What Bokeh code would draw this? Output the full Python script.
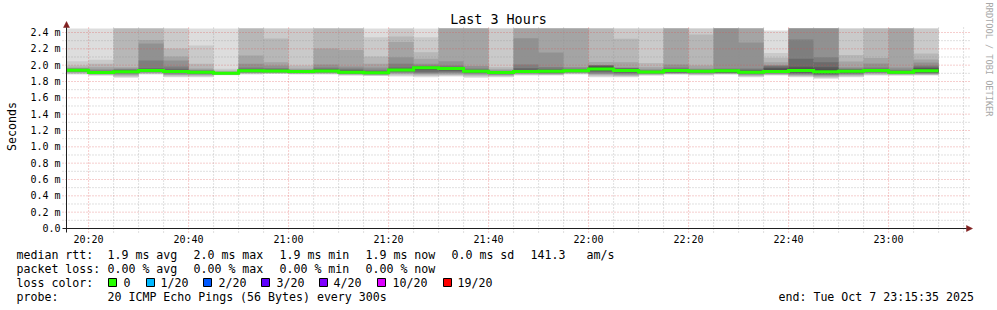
import numpy as np
from bokeh.plotting import figure
from bokeh.models import FixedTicker, Label, BoxAnnotation, Arrow, NormalHead, Range1d
from bokeh.embed import file_html
from bokeh.resources import INLINE

# ---------------- data ----------------
T = 9.9  # ping above the graph's upper limit (drawn clipped at the top)

graph_start = "20:15:35"
graph_end = "23:15:35"
step_minutes = 5
step_start = ["20:15", "20:20", "20:25", "20:30", "20:35", "20:40", "20:45", "20:50", "20:55",
              "21:00", "21:05", "21:10", "21:15", "21:20", "21:25", "21:30", "21:35", "21:40",
              "21:45", "21:50", "21:55", "22:00", "22:05", "22:10", "22:15", "22:20", "22:25",
              "22:30", "22:35", "22:40", "22:45", "22:50", "22:55", "23:00", "23:05"]

# median rtt per step (ms)
medians = [1.938, 1.910, 1.919, 1.935, 1.922, 1.913, 1.900, 1.931, 1.929, 1.922,
           1.929, 1.914, 1.906, 1.941, 1.969, 1.959, 1.926, 1.910, 1.922, 1.926,
           1.931, 1.953, 1.935, 1.916, 1.935, 1.926, 1.931, 1.914, 1.922, 1.935,
           1.919, 1.925, 1.935, 1.914, 1.933]

# the 20 ping rtts of each step (ms), sorted
pings = [
    [1.886, 1.893, 1.900, 1.908, 1.915, 1.921, 1.926, 1.930, 1.934, 1.937, 1.939, 1.942, 1.946, 1.950, 1.955, 1.962, 1.971, 1.996, 2.048, T],
    [1.873, 1.878, 1.883, 1.888, 1.892, 1.896, 1.900, 1.903, 1.906, 1.909, 1.911, 1.914, 1.918, 1.925, 1.935, 1.950, 1.975, 2.017, 2.066, T],
    [1.845, 1.856, 1.868, 1.880, 1.890, 1.898, 1.904, 1.909, 1.913, 1.917, 1.921, 1.925, 1.932, 1.940, 1.950, 1.960, 1.975, T, T, T],
    [1.886, 1.892, 1.899, 1.905, 1.910, 1.915, 1.920, 1.925, 1.929, 1.933, 1.937, 1.944, 1.952, 1.962, 2.057, 2.265, 2.308, T, T, T],
    [1.853, 1.862, 1.872, 1.881, 1.890, 1.898, 1.905, 1.911, 1.916, 1.920, 1.924, 1.932, 1.942, 1.955, 1.984, 2.057, 2.106, 2.204, T, T],
    [1.853, 1.862, 1.871, 1.879, 1.886, 1.893, 1.899, 1.904, 1.908, 1.912, 1.914, 1.917, 1.921, 1.928, 1.935, 1.945, 1.960, 2.017, 2.241, T],
    [1.877, 1.880, 1.883, 1.886, 1.889, 1.891, 1.893, 1.895, 1.897, 1.899, 1.901, 1.902, 1.904, 1.906, 1.910, 1.915, 1.922, 1.935, 1.955, T],
    [1.886, 1.892, 1.898, 1.903, 1.908, 1.913, 1.918, 1.922, 1.926, 1.929, 1.933, 1.938, 1.945, 1.955, 1.970, 2.017, 2.118, T, T, T],
    [1.892, 1.897, 1.901, 1.905, 1.909, 1.913, 1.917, 1.921, 1.924, 1.927, 1.931, 1.935, 1.941, 1.950, 1.965, 1.996, 2.036, 2.326, T, T],
    [1.886, 1.891, 1.895, 1.899, 1.903, 1.907, 1.911, 1.914, 1.917, 1.920, 1.924, 1.926, 1.929, 1.934, 1.940, 1.948, 1.960, 1.996, T, T],
    [1.886, 1.892, 1.897, 1.902, 1.907, 1.912, 1.916, 1.920, 1.924, 1.927, 1.931, 1.937, 1.945, 1.955, 1.970, 2.008, 2.204, T, T, T],
    [1.873, 1.878, 1.883, 1.888, 1.893, 1.897, 1.901, 1.905, 1.909, 1.912, 1.916, 1.922, 1.932, 1.945, 1.960, 1.984, 2.186, T, T, T],
    [1.867, 1.873, 1.878, 1.883, 1.887, 1.891, 1.895, 1.898, 1.901, 1.904, 1.908, 1.912, 1.920, 1.930, 1.945, 1.970, 2.017, 2.106, 2.342, T],
    [1.861, 1.873, 1.885, 1.895, 1.904, 1.913, 1.921, 1.928, 1.934, 1.939, 1.943, 1.947, 1.955, 1.970, 2.017, 2.098, 2.284, 2.351, T, T],
    [1.853, 1.866, 1.878, 1.888, 1.896, 1.905, 1.920, 1.940, 1.955, 1.967, 1.970, 1.973, 1.978, 1.985, 1.996, 2.017, 2.078, 2.159, 2.342, T],
    [1.861, 1.871, 1.881, 1.890, 1.900, 1.910, 1.922, 1.935, 1.948, 1.957, 1.961, 1.964, 1.970, 1.980, 1.996, 2.048, T, T, T, T],
    [1.845, 1.857, 1.869, 1.881, 1.891, 1.900, 1.908, 1.915, 1.920, 1.924, 1.928, 1.931, 1.937, 1.945, 1.960, 1.990, T, T, T, T],
    [1.853, 1.861, 1.869, 1.876, 1.882, 1.889, 1.895, 1.900, 1.905, 1.909, 1.911, 1.912, 1.915, 1.919, 1.925, 1.935, 1.950, 1.975, T, T],
    [1.873, 1.880, 1.887, 1.893, 1.899, 1.904, 1.909, 1.913, 1.917, 1.920, 1.924, 1.932, 1.945, 1.965, 2.008, 2.330, T, T, T, T],
    [1.873, 1.879, 1.885, 1.890, 1.895, 1.900, 1.906, 1.912, 1.918, 1.924, 1.928, 1.933, 1.942, 1.955, 1.977, 2.155, T, T, T, T],
    [1.886, 1.892, 1.898, 1.904, 1.909, 1.914, 1.918, 1.922, 1.926, 1.930, 1.932, 1.935, 1.940, 1.948, 1.958, 1.977, T, T, T, T],
    [1.853, 1.865, 1.876, 1.885, 1.893, 1.902, 1.915, 1.930, 1.942, 1.951, 1.957, 1.970, 1.994, 1.996, 1.997, 1.998, 2.039, T, T, T],
    [1.853, 1.862, 1.870, 1.878, 1.886, 1.895, 1.905, 1.918, 1.925, 1.933, 1.938, 1.945, 1.955, 1.958, 1.962, 1.975, 2.036, 2.323, T, T],
    [1.873, 1.878, 1.884, 1.889, 1.894, 1.899, 1.903, 1.907, 1.911, 1.914, 1.918, 1.920, 1.924, 1.930, 1.938, 1.950, 1.975, 2.026, T, T],
    [1.886, 1.890, 1.894, 1.897, 1.901, 1.905, 1.910, 1.915, 1.922, 1.932, 1.937, 1.940, 1.946, 1.955, 1.971, 2.008, T, T, T, T],
    [1.873, 1.880, 1.887, 1.893, 1.899, 1.905, 1.910, 1.915, 1.920, 1.924, 1.927, 1.929, 1.933, 1.938, 1.946, 1.960, 1.996, 2.375, T, T],
    [1.886, 1.890, 1.894, 1.897, 1.901, 1.905, 1.909, 1.914, 1.920, 1.929, 1.933, 1.937, 1.943, 1.950, 1.959, T, T, T, T, T],
    [1.853, 1.861, 1.869, 1.877, 1.884, 1.891, 1.897, 1.903, 1.908, 1.912, 1.916, 1.922, 1.932, 1.945, 1.960, 2.277, T, T, T, T],
    [1.873, 1.879, 1.885, 1.890, 1.895, 1.900, 1.905, 1.910, 1.915, 1.920, 1.928, 1.945, 1.965, 1.985, 1.996, 2.000, 2.036, 2.090, 2.149, 2.425],
    [1.853, 1.861, 1.869, 1.877, 1.884, 1.892, 1.900, 1.910, 1.920, 1.930, 1.940, 1.955, 1.980, 2.080, 2.314, T, T, T, T, T],
    [1.833, 1.844, 1.854, 1.863, 1.872, 1.881, 1.889, 1.897, 1.905, 1.914, 1.925, 1.945, 1.975, 2.036, 2.098, T, T, T, T, T],
    [1.853, 1.862, 1.871, 1.879, 1.887, 1.895, 1.902, 1.909, 1.916, 1.922, 1.928, 1.935, 1.942, 1.950, 1.960, 1.975, 2.045, 2.124, T, T],
    [1.873, 1.881, 1.889, 1.897, 1.904, 1.911, 1.918, 1.924, 1.929, 1.933, 1.937, 1.940, 1.946, 1.955, 1.970, 2.020, 2.088, T, T, T],
    [1.873, 1.878, 1.883, 1.888, 1.893, 1.897, 1.901, 1.905, 1.909, 1.912, 1.916, 1.919, 1.924, 1.932, 1.945, 1.970, T, T, T, T],
    [1.873, 1.879, 1.885, 1.890, 1.895, 1.900, 1.906, 1.912, 1.920, 1.930, 1.937, 1.948, 1.965, 1.980, 1.996, 2.033, 2.069, 2.143, T, T],
]

upper_limit = 2.449  # ms, top of the graph area

x_tick_labels = ["20:20", "20:40", "21:00", "21:20", "21:40", "22:00", "22:20", "22:40", "23:00"]
x_minor_labels = ["20:25", "20:30", "20:35", "20:45", "20:50", "20:55", "21:05", "21:10", "21:15",
                  "21:25", "21:30", "21:35", "21:45", "21:50", "21:55", "22:05", "22:10", "22:15",
                  "22:25", "22:30", "22:35", "22:45", "22:50", "22:55", "23:05", "23:10", "23:15"]
y_ticks = [0.0, 0.2, 0.4, 0.6, 0.8, 1.0, 1.2, 1.4, 1.6, 1.8, 2.0, 2.2, 2.4]
y_tick_labels = ["0.0", "0.2 m", "0.4 m", "0.6 m", "0.8 m", "1.0 m", "1.2 m", "1.4 m",
                 "1.6 m", "1.8 m", "2.0 m", "2.2 m", "2.4 m"]
y_minor = [0.1, 0.3, 0.5, 0.7, 0.9, 1.1, 1.3, 1.5, 1.7, 1.9, 2.1, 2.3]

title_text = "Last 3 Hours"
y_label_text = "Seconds"
side_text = "RRDTOOL / TOBI OETIKER"

rtt_label = "median rtt:"
rtt_items = ["1.9 ms avg", "2.0 ms max", "1.9 ms min", "1.9 ms now", "0.0 ms sd", "141.3", "am/s"]
loss_label = "packet loss:"
loss_items = ["0.00 % avg", "0.00 % max", "0.00 % min", "0.00 % now"]
color_label = "loss color:"
loss_names = ["0", "1/20", "2/20", "3/20", "4/20", "10/20", "19/20"]
loss_colors = ["#26ff00", "#00b8ff", "#0059ff", "#5e00ff", "#7e00ff", "#dd00ff", "#ff0000"]
probe_label = "probe:"
probe_text = "20 ICMP Echo Pings (56 Bytes) every 300s"
end_text = "end: Tue Oct  7 23:15:35 2025"

# ---------------- layout (pixels of the 997x310 image) ----------------
W, H = 997, 310
FL, FB = 62, 232                        # left / bottom end of the grid
X0, Y0 = 66, 228                        # pixel of graph start / of 0 s
XG1, YG1 = 969, 25                      # right end / top end of grid lines
PX_MIN = 5.0                            # px per minute
PX_MS = 196 / 2.4                       # px per ms

rtt_x = [107, 193, 279, 365, 451, 530, 586]
loss_x = [107, 193, 279, 365]
box_x = [108, 146, 203, 261, 319, 377, 443]
name_x = [123, 160, 218, 276, 333, 392, 457]
row_y = [254, 268, 282, 296]
MONO = "DejaVu Sans Mono"
TXT = "11.6px"


def minutes(s):
    parts = [int(v) for v in s.split(":")]
    return parts[0] * 60 + parts[1] + (parts[2] / 60 if len(parts) > 2 else 0)


def tx(px):  # image x pixel -> time
    return t0 + (px - X0) / PX_MIN


def vy(py):  # image y pixel -> ms
    return (Y0 - py) / PX_MS


t0 = minutes(graph_start)
t1 = minutes(graph_end)

# the frame fills the whole image; axes sit at fixed data locations inside it
p = figure(width=W, height=H, x_range=Range1d(tx(0), tx(W)), y_range=Range1d(vy(H), vy(0)),
           output_backend="svg", toolbar_location=None, min_border=0,
           background_fill_color="white", border_fill_color="white", outline_line_color=None)
p.xgrid.visible = False
p.ygrid.visible = False

starts = np.array([minutes(s) for s in step_start])
edges = np.concatenate([[max(starts[0], t0)], starts[1:], [starts[-1] + step_minutes]])
P = np.minimum(np.sort(np.array(pings), axis=1), upper_limit)

# smoke: band i spans ping i .. ping (21-i), darker towards the middle
half = 10
for i in range(1, half + 1):
    g = int(190 / half * (half - i)) + 50
    col = "#%02x%02x%02x" % (g, g, g)
    lo = np.concatenate([P[:, i - 1], [P[-1, i - 1]]])
    hi = np.concatenate([P[:, 20 - i], [P[-1, 20 - i]]])
    p.varea_step(x=edges, y1=lo, y2=hi, step_mode="after", fill_color=col)

# grid lines (over the smoke)
x_major = [minutes(s) for s in x_tick_labels]
x_minor = [minutes(s) for s in x_minor_labels]
grid_styles = ((y_minor, x_minor, "#8f8f8f", 0.55), (y_ticks[1:], x_major, "#de4f4f", 0.55))
for ys, xs, c, a in grid_styles:
    p.segment(x0=tx(FL), y0=ys, x1=tx(XG1), y1=ys, line_color=c, line_alpha=a, line_width=1, line_dash="1 2")
    p.segment(x0=xs, y0=vy(FB), x1=xs, y1=vy(YG1), line_color=c, line_alpha=a, line_width=1, line_dash="1 2")

# median line
med = np.array(medians)
p.step(x=edges, y=np.concatenate([med, [med[-1]]]), mode="after",
       line_color="#26ff00", line_width=3, line_join="miter", line_cap="butt")

# axes: tick labels from Bokeh axes placed at the graph origin, axis lines drawn as arrows
p.xaxis.fixed_location = 0.0
p.yaxis.fixed_location = t0
p.xaxis.ticker = FixedTicker(ticks=x_major)
p.xaxis.major_label_overrides = dict(zip(x_major, x_tick_labels))
p.yaxis.ticker = FixedTicker(ticks=y_ticks)
p.yaxis.major_label_overrides = dict(zip(y_ticks, y_tick_labels))
for ax in (p.xaxis, p.yaxis):
    ax.axis_line_color = None
    ax.major_tick_line_color = None
    ax.minor_tick_line_color = None
    ax.major_tick_out = 0
    ax.major_tick_in = 0
    ax.minor_tick_out = 0
    ax.minor_tick_in = 0
    ax.major_label_text_font = MONO
    ax.major_label_text_font_size = "10px"
    ax.major_label_text_color = "black"
p.yaxis.major_label_standoff = 6
p.xaxis.major_label_standoff = 5

arrow_col = "#801f1f"
p.add_layout(Arrow(end=NormalHead(size=6, fill_color=arrow_col, line_color=arrow_col, line_width=0.5),
                   x_start=tx(FL), y_start=0, x_end=tx(972), y_end=0,
                   line_color="#1f1f1f", line_width=1))
p.add_layout(Arrow(end=NormalHead(size=6, fill_color=arrow_col, line_color=arrow_col, line_width=0.5),
                   x_start=t0, y_start=vy(FB), x_end=t0, y_end=vy(21),
                   line_color="#1f1f1f", line_width=1))


def put(text, px, py, size=TXT, align="left", color="black", angle=0.0):
    # screen units: x from the frame's left edge, y up from its bottom edge (frame = whole image)
    p.add_layout(Label(x=px, y=H - py, x_units="screen", y_units="screen",
                       text=text, text_font=MONO, text_font_size=size, text_align=align,
                       text_baseline="middle", text_color=color, angle=angle))


put(title_text, 498, 19, size="13.4px", align="center")
put(y_label_text, 11, 126, align="center", angle=np.pi / 2)
put(side_text, 988, 59, size="8.6px", align="center", color="#a8a8a8", angle=-np.pi / 2)

put(rtt_label, 16, row_y[0])
for t, x in zip(rtt_items, rtt_x):
    put(t, x, row_y[0])
put(loss_label, 16, row_y[1])
for t, x in zip(loss_items, loss_x):
    put(t, x, row_y[1])
put(color_label, 16, row_y[2])
for name, c, bx, nx in zip(loss_names, loss_colors, box_x, name_x):
    p.add_layout(BoxAnnotation(left=bx, right=bx + 8, top=H - (row_y[2] - 4), bottom=H - (row_y[2] + 4),
                               left_units="screen", right_units="screen", top_units="screen",
                               bottom_units="screen", fill_color=c, fill_alpha=1,
                               line_color="black", line_width=1, line_alpha=1))
    put(name, nx, row_y[2])
put(probe_label, 16, row_y[3])
put(probe_text, 107, row_y[3])
put(end_text, 778, row_y[3])

open("out.html", "w").write(file_html(p, INLINE))
